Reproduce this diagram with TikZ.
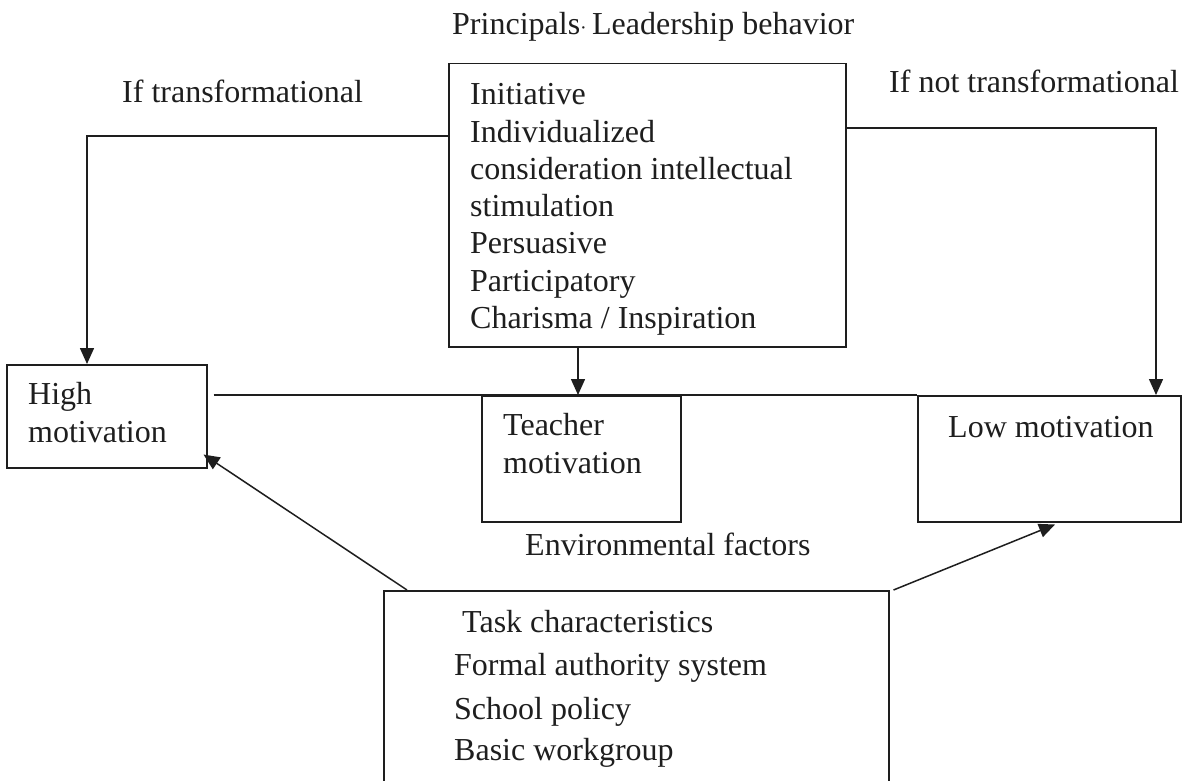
\documentclass[tikz,border=0pt]{standalone}
\usepackage{fontspec}
\setmainfont{Liberation Serif}
\usetikzlibrary{arrows.meta}
\definecolor{ink}{RGB}{30,30,30}
\begin{document}
\begin{tikzpicture}[x=1pt,y=-1pt,
  box/.style={draw=ink,line width=1.5pt,rectangle,inner sep=0pt,anchor=north west},
  txt/.style={anchor=base west,inner sep=0pt,text=ink,font=\fontsize{32}{38}\selectfont},
  wire/.style={draw=ink,line width=1.5pt},
  arr/.style={wire,-{Triangle[length=16pt,width=14pt]}}]
\useasboundingbox (0,0) rectangle (1188,781);
\clip (0,0) rectangle (1188,781);
\fill[white] (0,0) rectangle (1188,781);
% boxes
\node[box,minimum width=397pt,minimum height=283pt] (top) at (448,63) {};
\node[box,minimum width=200pt,minimum height=103pt] (high) at (6,364) {};
\node[box,minimum width=199pt,minimum height=126pt] (teacher) at (481,395) {};
\node[box,minimum width=263pt,minimum height=126pt] (low) at (917,395) {};
\node[box,minimum width=505pt,minimum height=260pt] (env) at (383,590) {};
% texts
\node[txt] (title) at (452,35) {Principals{\fontsize{20}{20}\selectfont·}\,Leadership behavior};
\node[txt] (iftr) at (122,103) {If transformational};
\node[txt] (ifnot) at (889,93) {If not transformational};
\foreach \t [count=\i from 0] in {Initiative,Individualized,consideration intellectual,stimulation,Persuasive,Participatory,Charisma / Inspiration}
  \node[txt] (lb\i) at (470,105+37.2*\i) {\t};
\node[txt] (high1) at (28,404) {High};
\node[txt] (high2) at (28,442) {motivation};
\node[txt] (teach1) at (503,435) {Teacher};
\node[txt] (teach2) at (503,473) {motivation};
\node[txt] (lowt) at (948,437) {Low motivation};
\node[txt] (envt) at (525,555) {Environmental factors};
\node[txt] (f1) at (462,632) {Task characteristics};
\node[txt] (f2) at (454,675) {Formal authority system};
\node[txt] (f3) at (454,719) {School policy};
\node[txt] (f4) at (454,760) {Basic workgroup};
% connectors
\coordinate (lturn) at (87,136);
\coordinate (rturn) at (1156,128);
\coordinate (mid) at (578,0);
\draw[arr] (top.west |- lturn) -| (lturn |- high.north);
\draw[arr] (top.east |- rturn) -| (rturn |- low.north);
\draw[arr] (top.south -| mid) -- (teacher.north -| mid);
\draw[wire] ([xshift=6pt]high.east |- low.north) -- (low.north west);
\draw[arr] ([xshift=24pt]env.north west) -- ([shift={(-4pt,14pt)}]high.south east);
\draw[arr] ([xshift=4pt]env.north east) -- ([shift={(138pt,-2pt)}]low.south west);
\end{tikzpicture}
\end{document}
